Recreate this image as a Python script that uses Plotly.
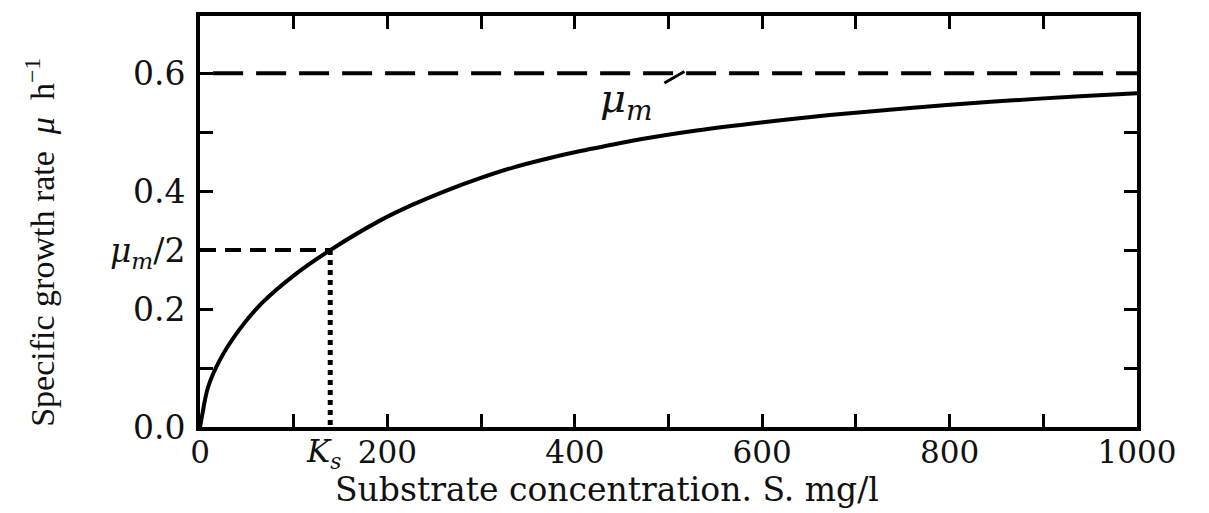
import plotly.graph_objects as go

# Curve (substrate S mg/l, specific growth rate mu h^-1)
S_vals = [0, 2, 8.5, 21, 41, 66, 101, 139, 192, 227, 263, 299, 334, 370, 406,
          441, 470, 530, 601, 672, 736, 797, 868, 939, 1000]
mu_vals = [0.0, 0.017, 0.067, 0.113, 0.163, 0.21, 0.258, 0.30, 0.350, 0.377,
           0.401, 0.422, 0.440, 0.455, 0.468, 0.479, 0.488, 0.503, 0.517,
           0.529, 0.538, 0.546, 0.554, 0.561, 0.566]

mu_max = 0.6
Ks = 139
half_mu = 0.3

x_tick_vals = [0, 100, 200, 300, 400, 500, 600, 700, 800, 900, 1000]
x_tick_text = ["0", "", "200", "", "400", "", "600", "", "800", "", "1000"]
y_tick_vals = [0.0, 0.1, 0.2, 0.3, 0.4, 0.5, 0.6]
y_tick_text = ["0.0", "", "0.2", "<i>μ<sub>m</sub></i>/2", "0.4", "", "0.6"]

x_title = "Substrate concentration. S. mg/l"
y_title = "Specific growth rate  <i>μ</i>  h<sup>−1</sup>"

fig = go.Figure()

# mu_max dashed asymptote
fig.add_trace(go.Scatter(x=[14, 1000], y=[mu_max, mu_max], mode="lines",
                         line=dict(color="black", width=4, dash="30px,13px"),
                         hoverinfo="skip", showlegend=False))
# mu_m/2 horizontal dashed
fig.add_trace(go.Scatter(x=[0, Ks], y=[half_mu, half_mu], mode="lines",
                         line=dict(color="black", width=4, dash="16px,9px"),
                         hoverinfo="skip", showlegend=False))
# Ks vertical dotted
fig.add_trace(go.Scatter(x=[Ks, Ks], y=[half_mu, 0], mode="lines",
                         line=dict(color="black", width=5, dash="5px,5px"),
                         hoverinfo="skip", showlegend=False))
# Monod curve
fig.add_trace(go.Scatter(x=S_vals, y=mu_vals, mode="lines",
                         line=dict(color="black", width=4, shape="spline", smoothing=1.0),
                         showlegend=False))

# mu_m label with leader line
fig.add_annotation(x=455, y=0.553, xref="x", yref="y", text="<i>μ<sub>m</sub></i>",
                   showarrow=False, font=dict(family="DejaVu Serif", size=40, color="#111"))
fig.add_annotation(x=517, y=0.603, xref="x", yref="y", ax=494, ay=0.582,
                   axref="x", ayref="y", showarrow=True, arrowhead=0,
                   arrowwidth=3, arrowcolor="black", text="")
# Ks label
fig.add_annotation(x=Ks, y=0, xref="x", yref="y", yshift=-4, xshift=-7,
                   text="<i>K<sub>s</sub></i>", showarrow=False, yanchor="top",
                   font=dict(family="DejaVu Serif", size=31, color="#111"))

# axis titles
fig.add_annotation(x=0.434, y=-0.152, xref="paper", yref="paper", text=x_title,
                   showarrow=False, xanchor="center", yanchor="middle",
                   font=dict(family="DejaVu Serif", size=33, color="#111"))
fig.add_annotation(x=-0.171, y=0.45, xref="paper", yref="paper", text=y_title,
                   showarrow=False, textangle=-90, xanchor="center", yanchor="middle",
                   font=dict(family="Liberation Serif", size=34, color="#111"))

fig.update_xaxes(range=[0, 1000], tickvals=x_tick_vals, ticktext=x_tick_text,
                 ticks="inside", ticklen=13, tickwidth=3, tickcolor="black",
                 showline=True, linewidth=4, linecolor="black", mirror="ticks",
                 showgrid=False, zeroline=False,
                 tickfont=dict(family="DejaVu Serif", size=31, color="#111"),
                 ticklabelstandoff=-5)
fig.update_yaxes(range=[0, 0.697], tickvals=y_tick_vals, ticktext=y_tick_text,
                 ticks="inside", ticklen=13, tickwidth=3, tickcolor="black",
                 showline=True, linewidth=4, linecolor="black", mirror="ticks",
                 showgrid=False, zeroline=False,
                 tickfont=dict(family="DejaVu Serif", size=33, color="#111"),
                 ticklabelstandoff=4)

fig.update_layout(width=1209, height=513, margin=dict(l=200, r=72, t=12, b=86),
                  paper_bgcolor="white", plot_bgcolor="white")

fig.write_html("out.html")
